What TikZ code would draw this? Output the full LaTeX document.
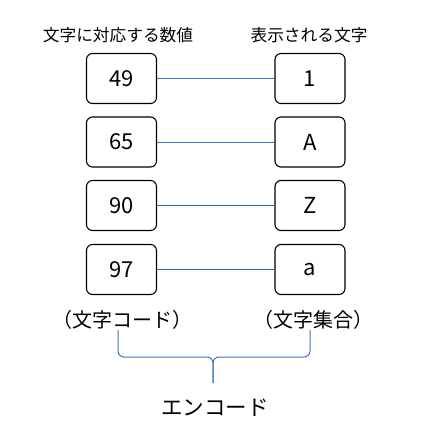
\documentclass[tikz,border=0pt]{standalone}
\usepackage{fontspec}
\setmainfont{Noto Sans CJK JP}
\usetikzlibrary{positioning}
\definecolor{lnblue}{HTML}{4472C4}
\definecolor{lndark}{HTML}{3A5CAE}
\definecolor{lblack}{HTML}{000000}

\begin{document}
\begin{tikzpicture}[x=1pt, y=-1pt,
    valbox/.style={draw=lblack, line width=1.1pt, rounded corners=6pt,
                   minimum width=70pt, minimum height=50pt,
                   font=\fontsize{22}{24}\selectfont},
    head/.style={font=\fontsize{16.7}{19}\selectfont},
    note/.style={font=\fontsize{20}{22}\selectfont},
    link/.style={line width=1pt, color=lnblue},
    brace/.style={line width=1pt, color=lnblue, rounded corners=6pt}
]
  \useasboundingbox (0,0) rectangle (421,439);

  % headings
  \node[head] (hnum) at (118,35) {文字に対応する数値};
  \node[head] (hchr) at (309,35) {表示される文字};

  % code values and characters
  \node[valbox] (n49) at (121.5,78.5) {49};
  \node[valbox] (c1)  at (310,78.5) {1};

  \node[valbox] (n65) at (121.5,142) {65};
  \node[valbox] (cA)  at (310,142) {A};

  \node[valbox] (n90) at (121.5,205.5) {90};
  \node[valbox] (cZ)  at (310,205.5) {Z};

  \node[valbox] (n97) at (121.5,269.5) {97};
  \node[valbox] (ca)  at (310,269.5) {a};

  % links
  \draw[link] (n49) -- (c1);
  \draw[link] (n65) -- (cA);
  \draw[link, color=lndark] (n90) -- (cZ);
  \draw[link, color=lndark] (n97) -- (ca);

  % bottom labels
  \node[note] (lcode) at (122,320) {（文字コード）};
  \node[note] (lset)  at (313,320) {（文字集合）};

  % brace
  \coordinate (bl) at (118,330);
  \coordinate (br) at (310,330);
  \coordinate (bm) at (213,357);
  \coordinate (bt) at (213,383);
  \draw[brace] (bl) -- (bl |- bm) -- (bm) -- (bt);
  \draw[brace] (br) -- (br |- bm) -- (bm) -- (bt);

  \node[note, font=\fontsize{21.5}{24}\selectfont] (enc) at (215,408) {エンコード};
\end{tikzpicture}
\end{document}
